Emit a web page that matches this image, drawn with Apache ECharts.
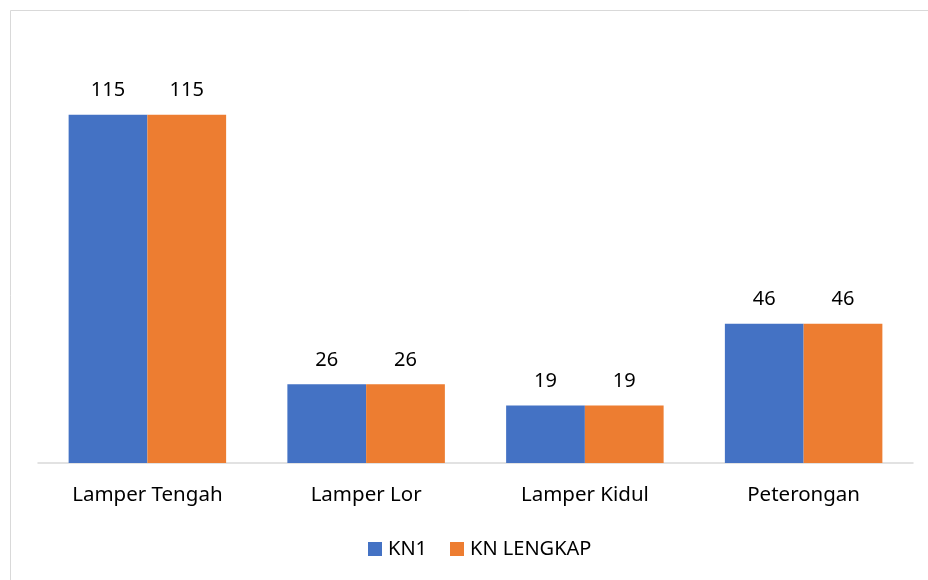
<!DOCTYPE html>
<html lang="id">
<head>
  <meta charset="UTF-8">
  <title>KN1 vs KN LENGKAP</title>
  <style>
    html, body { margin: 0; padding: 0; background: #fff; }
    #chart { width: 928px; height: 580px; }
  </style>
  <script src="https://cdn.jsdelivr.net/npm/echarts@6/dist/echarts.min.js"></script>
</head>
<body>
  <div id="chart"></div>
  <script>
    var categories = ['Lamper Tengah', 'Lamper Lor', 'Lamper Kidul', 'Peterongan'];
    var kn1 = [115, 26, 19, 46];
    var knLengkap = [115, 26, 19, 46];

    var font = 'Noto Sans';
    var chart = echarts.init(document.getElementById('chart'));

    var option = {
      backgroundColor: '#fff',
      textStyle: { fontFamily: font },
      animation: false,
      // frame of the chart area, like the Excel border
      graphic: [{
        type: 'rect',
        shape: { x: 10.5, y: 10.5, width: 940, height: 600 },
        style: { fill: 'none', stroke: '#d9d9d9', lineWidth: 1 }
      }],
      legend: {
        bottom: 16,
        left: 363,
        itemWidth: 14,
        itemHeight: 14,
        itemGap: 23,
        icon: 'rect',
        textStyle: { fontFamily: font, fontSize: 20, color: '#000', padding: [0, 0, 0, 1] },
        data: ['KN1', 'KN LENGKAP']
      },
      grid: { left: 38, right: 15, top: 39, bottom: 117 },
      xAxis: {
        type: 'category',
        data: categories,
        axisLine: { lineStyle: { color: '#d9d9d9', width: 1.5 } },
        axisTick: { show: false },
        axisLabel: { fontFamily: font, fontSize: 20.5, color: '#000', margin: 22 }
      },
      yAxis: {
        type: 'value',
        min: 0,
        max: 140,
        show: false
      },
      series: [
        {
          name: 'KN1',
          type: 'bar',
          data: kn1,
          barGap: '0%',
          barCategoryGap: '28%',
          itemStyle: { color: '#4472c4' },
          label: { show: true, position: 'top', distance: 14, fontFamily: font, fontSize: 20, color: '#000' }
        },
        {
          name: 'KN LENGKAP',
          type: 'bar',
          data: knLengkap,
          barGap: '0%',
          barCategoryGap: '28%',
          itemStyle: { color: '#ed7d31' },
          label: { show: true, position: 'top', distance: 14, fontFamily: font, fontSize: 20, color: '#000' }
        }
      ]
    };
    chart.setOption(option);
  </script>
</body>
</html>
